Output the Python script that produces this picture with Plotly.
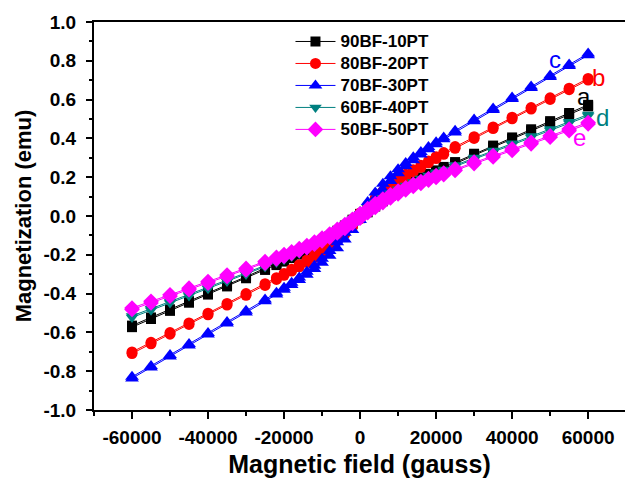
import plotly.graph_objects as go

# Magnetic field grid: descending branch (60000 -> -60000) and ascending branch (-60000 -> 60000)
H_down = [60000, 55000, 50000, 45000, 40000, 35000, 30000, 25000,
          22000, 20000, 18000, 16000, 14000, 12000, 10000, 8000, 6000, 4000, 2000, 0,
          -2000, -4000, -6000, -8000, -10000, -12000, -14000, -16000, -18000, -20000, -22000,
          -25000, -30000, -35000, -40000, -45000, -50000, -55000, -60000]
H_up = [-60000, -55000, -50000, -45000, -40000, -35000, -30000, -25000,
        -22000, -20000, -18000, -16000, -14000, -12000, -10000, -8000, -6000, -4000, -2000, 0,
        2000, 4000, 6000, 8000, 10000, 12000, 14000, 16000, 18000, 20000, 22000,
        25000, 30000, 35000, 40000, 45000, 50000, 55000, 60000]

# 90BF-10PT (a)
Ma_down = [0.573, 0.531, 0.489, 0.447, 0.405, 0.363, 0.321, 0.278,
           0.253, 0.235, 0.217, 0.199, 0.180, 0.161, 0.140, 0.118, 0.094, 0.068, 0.040, 0.011,
           -0.019, -0.049, -0.076, -0.103, -0.127, -0.149, -0.170, -0.189, -0.208, -0.226, -0.244,
           -0.270, -0.313, -0.355, -0.397, -0.439, -0.481, -0.523, -0.565]
Ma_up = [-0.573, -0.531, -0.489, -0.447, -0.405, -0.363, -0.321, -0.278,
         -0.253, -0.235, -0.217, -0.199, -0.180, -0.161, -0.140, -0.118, -0.094, -0.068, -0.040, -0.011,
         0.019, 0.049, 0.076, 0.103, 0.127, 0.149, 0.170, 0.189, 0.208, 0.226, 0.244,
         0.270, 0.313, 0.355, 0.397, 0.439, 0.481, 0.523, 0.565]
# 80BF-20PT (b)
Mb_down = [0.709, 0.659, 0.609, 0.559, 0.509, 0.459, 0.409, 0.358,
           0.327, 0.306, 0.284, 0.262, 0.239, 0.215, 0.188, 0.159, 0.128, 0.093, 0.055, 0.015,
           -0.027, -0.067, -0.105, -0.140, -0.171, -0.200, -0.227, -0.251, -0.274, -0.296, -0.318,
           -0.349, -0.400, -0.451, -0.501, -0.551, -0.601, -0.651, -0.701]
Mb_up = [-0.709, -0.659, -0.609, -0.559, -0.509, -0.459, -0.409, -0.358,
         -0.327, -0.306, -0.284, -0.262, -0.239, -0.215, -0.188, -0.159, -0.128, -0.093, -0.055, -0.015,
         0.027, 0.067, 0.105, 0.140, 0.171, 0.200, 0.227, 0.251, 0.274, 0.296, 0.318,
         0.349, 0.400, 0.451, 0.501, 0.551, 0.601, 0.651, 0.701]
# 70BF-30PT (c)
Mc_down = [0.837, 0.781, 0.724, 0.668, 0.611, 0.554, 0.497, 0.440,
           0.405, 0.380, 0.356, 0.330, 0.303, 0.273, 0.241, 0.205, 0.166, 0.121, 0.072, 0.020,
           -0.034, -0.086, -0.135, -0.180, -0.220, -0.256, -0.288, -0.317, -0.344, -0.370, -0.395,
           -0.431, -0.489, -0.546, -0.603, -0.660, -0.716, -0.773, -0.829]
Mc_up = [-0.837, -0.781, -0.724, -0.668, -0.611, -0.554, -0.497, -0.440,
         -0.405, -0.380, -0.356, -0.330, -0.303, -0.273, -0.241, -0.205, -0.166, -0.121, -0.072, -0.020,
         0.034, 0.086, 0.135, 0.180, 0.220, 0.256, 0.288, 0.317, 0.344, 0.370, 0.395,
         0.431, 0.489, 0.546, 0.603, 0.660, 0.716, 0.773, 0.829]
# 60BF-40PT (d)
Md_down = [0.523, 0.486, 0.449, 0.412, 0.375, 0.338, 0.301, 0.263,
           0.240, 0.225, 0.209, 0.193, 0.175, 0.157, 0.138, 0.117, 0.094, 0.068, 0.041, 0.012,
           -0.018, -0.047, -0.075, -0.101, -0.124, -0.145, -0.164, -0.182, -0.199, -0.216, -0.232,
           -0.255, -0.293, -0.330, -0.367, -0.404, -0.441, -0.478, -0.515]
Md_up = [-0.523, -0.486, -0.449, -0.412, -0.375, -0.338, -0.301, -0.263,
         -0.240, -0.225, -0.209, -0.193, -0.175, -0.157, -0.138, -0.117, -0.094, -0.068, -0.041, -0.012,
         0.018, 0.047, 0.075, 0.101, 0.124, 0.145, 0.164, 0.182, 0.199, 0.216, 0.232,
         0.255, 0.293, 0.330, 0.367, 0.404, 0.441, 0.478, 0.515]
# 50BF-50PT (e)
Me_down = [0.482, 0.448, 0.414, 0.380, 0.346, 0.312, 0.278, 0.243,
           0.222, 0.208, 0.193, 0.178, 0.163, 0.146, 0.128, 0.109, 0.087, 0.064, 0.038, 0.011,
           -0.017, -0.044, -0.069, -0.093, -0.114, -0.134, -0.152, -0.168, -0.184, -0.199, -0.213,
           -0.235, -0.270, -0.304, -0.338, -0.372, -0.406, -0.440, -0.474]
Me_up = [-0.482, -0.448, -0.414, -0.380, -0.346, -0.312, -0.278, -0.243,
         -0.222, -0.208, -0.193, -0.178, -0.163, -0.146, -0.128, -0.109, -0.087, -0.064, -0.038, -0.011,
         0.017, 0.044, 0.069, 0.093, 0.114, 0.134, 0.152, 0.168, 0.184, 0.199, 0.213,
         0.235, 0.270, 0.304, 0.338, 0.372, 0.406, 0.440, 0.474]

series_names = ["90BF-10PT", "80BF-20PT", "70BF-30PT", "60BF-40PT", "50BF-50PT"]
series_letters = ["a", "b", "c", "d", "e"]

x_tickvals = [-60000, -40000, -20000, 0, 20000, 40000, 60000]
x_ticktext = ["-60000", "-40000", "-20000", "0", "20000", "40000", "60000"]
y_tickvals = [-1.0, -0.8, -0.6, -0.4, -0.2, 0.0, 0.2, 0.4, 0.6, 0.8, 1.0]
y_ticktext = ["-1.0", "-0.8", "-0.6", "-0.4", "-0.2", "0.0", "0.2", "0.4", "0.6", "0.8", "1.0"]

# label anchor positions (data coords) for the letters
letter_x = [58800, 62800, 51300, 63800, 57800]
letter_y = [0.615, 0.715, 0.805, 0.51, 0.405]

colors = ["#000000", "#ff0000", "#0000ff", "#008080", "#ff00ff"]
symbols = ["square", "circle", "triangle-up", "triangle-down", "diamond"]
msizes = [10, 11, 12, 11, 12]

downs = [Ma_down, Mb_down, Mc_down, Md_down, Me_down]
ups = [Ma_up, Mb_up, Mc_up, Md_up, Me_up]

FONT = "Liberation Sans, Arial, sans-serif"

fig = go.Figure()
for name, col, sym, ms, dn, up in zip(series_names, colors, symbols, msizes, downs, ups):
    fig.add_trace(go.Scatter(
        x=H_down + H_up, y=dn + up,
        name='<span style="font-size:17px">' + name + '</span>',
        mode="lines+markers",
        line=dict(color=col, width=1),
        marker=dict(symbol=sym, size=ms, color=col, line=dict(width=0)),
    ))

for lt, col, lx, ly in zip(series_letters, colors, letter_x, letter_y):
    fig.add_annotation(x=lx, y=ly, text=lt, showarrow=False,
                       font=dict(family=FONT, size=24, color=col),
                       xanchor="center", yanchor="middle")

fig.update_layout(
    width=625, height=478,
    margin=dict(l=94, r=0, t=22, b=68),
    paper_bgcolor="white", plot_bgcolor="white",
    font=dict(family=FONT, color="black"),
    showlegend=True,
    legend=dict(x=0.37, y=0.991, xanchor="left", yanchor="top",
                bgcolor="rgba(0,0,0,0)", borderwidth=0,
                font=dict(family=FONT, size=14.6, weight="bold", color="black"),
                tracegroupgap=0, itemsizing="trace", itemwidth=40),
    xaxis=dict(range=[-70000, 69700], tickvals=x_tickvals, ticktext=x_ticktext,
               ticks="outside", ticklen=7, tickwidth=2, tickcolor="black",
               showline=True, linecolor="black", linewidth=2, mirror=True,
               showgrid=False, zeroline=False,
               tickfont=dict(family=FONT, size=19, weight="bold"),
               ticklabelstandoff=2,
               minor=dict(ticks="outside", ticklen=4, tickwidth=2, tickcolor="black", dtick=10000, tick0=0, showgrid=False),
               title=dict(text="Magnetic field (gauss)", font=dict(family=FONT, size=25, weight="bold"), standoff=9)),
    yaxis=dict(range=[-1.0, 1.0], tickvals=y_tickvals, ticktext=y_ticktext,
               ticks="outside", ticklen=6, tickwidth=2, tickcolor="black",
               showline=True, linecolor="black", linewidth=2, mirror=False,
               showgrid=False, zeroline=False,
               tickfont=dict(family=FONT, size=19, weight="bold"),
               ticklabelstandoff=6,
               minor=dict(ticks="outside", ticklen=3, tickwidth=2, tickcolor="black", dtick=0.1, tick0=0, showgrid=False),
               title=dict(text="Magnetization (emu)", font=dict(family=FONT, size=22, weight="bold"), standoff=6)),
)

fig.write_html("out.html")
